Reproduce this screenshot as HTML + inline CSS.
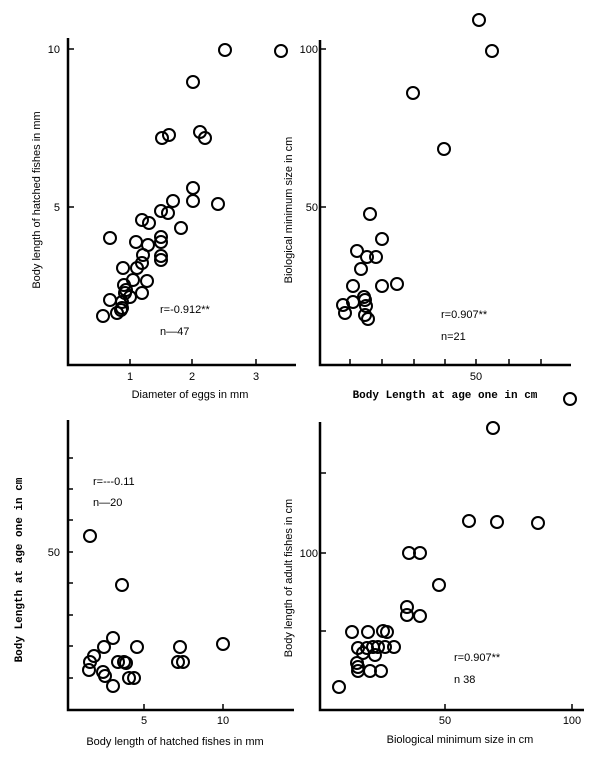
<!DOCTYPE html>
<html><head><meta charset="utf-8"><style>
html,body{margin:0;padding:0;background:#fff;}
svg{display:block}
text{font-family:"Liberation Sans",sans-serif;font-size:11px;fill:#000}
circle{fill:none;stroke:#000;stroke-width:2}
</style></head><body>
<svg width="600" height="767" viewBox="0 0 600 767">
<g stroke="#000" stroke-width="2.5" fill="none">
<path d="M68,38 V365 H296"/>
<path d="M320,40 V365 H571"/>
<path d="M68,420 V710 H294"/>
<path d="M320,422 V710 H584"/>
</g>
<g stroke="#000" stroke-width="1.5">
<path d="M68,49h6M68,207h6M130,365v-6M192,365v-6M256,365v-6"/>
<path d="M320,49h6M320,207h6M350,365v-6M382,365v-6M414,365v-6M445,365v-6M476,365v-6M509,365v-6M541,365v-6"/>
<path d="M68,458h5M68,489h5M68,520h5M68,552h5M68,583h5M68,615h5M68,646h5M68,678h5M144,710v-6M223,710v-6"/>
<path d="M320,473h6M320,553h6M320,631h6M445,710v-6M572,710v-6"/>
</g>
<text x="60" y="53" text-anchor="end">10</text>
<text x="60" y="211" text-anchor="end">5</text>
<text x="130" y="380" text-anchor="middle">1</text>
<text x="192" y="380" text-anchor="middle">2</text>
<text x="256" y="380" text-anchor="middle">3</text>
<text x="190" y="398" text-anchor="middle" font-size="12">Diameter of eggs in mm</text>
<text transform="translate(40,200) rotate(-90)" text-anchor="middle" font-size="12">Body length of hatched fishes in mm</text>
<text x="160" y="313">r=-0.912**</text>
<text x="160" y="335">n—47</text>
<text x="318" y="53" text-anchor="end">100</text>
<text x="318" y="211" text-anchor="end">50</text>
<text x="476" y="380" text-anchor="middle">50</text>
<text x="445" y="398" text-anchor="middle" font-size="11" font-weight="bold" style="font-family:'Liberation Mono',monospace">Body Length at age one in cm</text>
<text transform="translate(292,210) rotate(-90)" text-anchor="middle" font-size="12">Biological minimum size in cm</text>
<text x="441" y="318">r=0.907**</text>
<text x="441" y="340">n=21</text>
<text x="60" y="556" text-anchor="end">50</text>
<text x="144" y="724" text-anchor="middle">5</text>
<text x="223" y="724" text-anchor="middle">10</text>
<text x="175" y="745" text-anchor="middle" font-size="12">Body length of hatched fishes in mm</text>
<text transform="translate(22,570) rotate(-90)" text-anchor="middle" font-weight="bold" style="font-family:'Liberation Mono',monospace" font-size="11">Body Length at age one in cm</text>
<text x="93" y="485">r=---0.11</text>
<text x="93" y="506">n—20</text>
<text x="318" y="557" text-anchor="end">100</text>
<text x="445" y="724" text-anchor="middle">50</text>
<text x="572" y="724" text-anchor="middle">100</text>
<text x="460" y="743" text-anchor="middle" font-size="12">Biological minimum size in cm</text>
<text transform="translate(292,578) rotate(-90)" text-anchor="middle" font-size="12">Body length of adult fishes in cm</text>
<text x="454" y="661">r=0.907**</text>
<text x="454" y="683">n  38</text>
<g>
<circle cx="225" cy="50" r="6"/><circle cx="281" cy="51" r="6"/><circle cx="193" cy="82" r="6"/><circle cx="162" cy="138" r="6"/><circle cx="169" cy="135" r="6"/><circle cx="200" cy="132" r="6"/><circle cx="205" cy="138" r="6"/><circle cx="193" cy="188" r="6"/><circle cx="193" cy="201" r="6"/><circle cx="218" cy="204" r="6"/><circle cx="173" cy="201" r="6"/><circle cx="161" cy="211" r="6"/><circle cx="168" cy="213" r="6"/><circle cx="181" cy="228" r="6"/><circle cx="142" cy="220" r="6"/><circle cx="149" cy="223" r="6"/><circle cx="110" cy="238" r="6"/><circle cx="136" cy="242" r="6"/><circle cx="161" cy="237" r="6"/><circle cx="161" cy="242" r="6"/><circle cx="148" cy="245" r="6"/><circle cx="161" cy="256" r="6"/><circle cx="161" cy="260" r="6"/><circle cx="143" cy="255" r="6"/><circle cx="142" cy="263" r="6"/><circle cx="137" cy="268" r="6"/><circle cx="123" cy="268" r="6"/><circle cx="147" cy="281" r="6"/><circle cx="142" cy="293" r="6"/><circle cx="124" cy="285" r="6"/><circle cx="126" cy="290" r="6"/><circle cx="130" cy="297" r="6"/><circle cx="110" cy="300" r="6"/><circle cx="122" cy="302" r="6"/><circle cx="122" cy="308" r="6"/><circle cx="117" cy="313" r="6"/><circle cx="103" cy="316" r="6"/><circle cx="121" cy="310" r="6"/><circle cx="133" cy="280" r="6"/><circle cx="125" cy="293" r="6"/>
<circle cx="479" cy="20" r="6"/><circle cx="492" cy="51" r="6"/><circle cx="413" cy="93" r="6"/><circle cx="444" cy="149" r="6"/><circle cx="370" cy="214" r="6"/><circle cx="382" cy="239" r="6"/><circle cx="357" cy="251" r="6"/><circle cx="367" cy="257" r="6"/><circle cx="376" cy="257" r="6"/><circle cx="361" cy="269" r="6"/><circle cx="353" cy="286" r="6"/><circle cx="382" cy="286" r="6"/><circle cx="397" cy="284" r="6"/><circle cx="364" cy="297" r="6"/><circle cx="353" cy="302" r="6"/><circle cx="365" cy="300" r="6"/><circle cx="366" cy="306" r="6"/><circle cx="343" cy="305" r="6"/><circle cx="345" cy="313" r="6"/><circle cx="365" cy="315" r="6"/><circle cx="368" cy="319" r="6"/><circle cx="570" cy="399" r="6"/>
<circle cx="90" cy="536" r="6"/><circle cx="122" cy="585" r="6"/><circle cx="113" cy="638" r="6"/><circle cx="104" cy="647" r="6"/><circle cx="137" cy="647" r="6"/><circle cx="180" cy="647" r="6"/><circle cx="223" cy="644" r="6"/><circle cx="94" cy="656" r="6"/><circle cx="90" cy="662" r="6"/><circle cx="118" cy="662" r="6"/><circle cx="126" cy="663" r="6"/><circle cx="124" cy="662" r="6"/><circle cx="178" cy="662" r="6"/><circle cx="183" cy="662" r="6"/><circle cx="89" cy="670" r="6"/><circle cx="103" cy="672" r="6"/><circle cx="105" cy="676" r="6"/><circle cx="129" cy="678" r="6"/><circle cx="134" cy="678" r="6"/><circle cx="113" cy="686" r="6"/>
<circle cx="493" cy="428" r="6"/><circle cx="469" cy="521" r="6"/><circle cx="497" cy="522" r="6"/><circle cx="538" cy="523" r="6"/><circle cx="409" cy="553" r="6"/><circle cx="420" cy="553" r="6"/><circle cx="439" cy="585" r="6"/><circle cx="407" cy="607" r="6"/><circle cx="407" cy="615" r="6"/><circle cx="420" cy="616" r="6"/><circle cx="352" cy="632" r="6"/><circle cx="368" cy="632" r="6"/><circle cx="383" cy="631" r="6"/><circle cx="387" cy="632" r="6"/><circle cx="358" cy="648" r="6"/><circle cx="367" cy="648" r="6"/><circle cx="373" cy="647" r="6"/><circle cx="378" cy="647" r="6"/><circle cx="385" cy="647" r="6"/><circle cx="394" cy="647" r="6"/><circle cx="375" cy="655" r="6"/><circle cx="363" cy="653" r="6"/><circle cx="357" cy="663" r="6"/><circle cx="358" cy="671" r="6"/><circle cx="370" cy="671" r="6"/><circle cx="381" cy="671" r="6"/><circle cx="358" cy="667" r="6"/><circle cx="339" cy="687" r="6"/>
</g>
</svg>
</body></html>
